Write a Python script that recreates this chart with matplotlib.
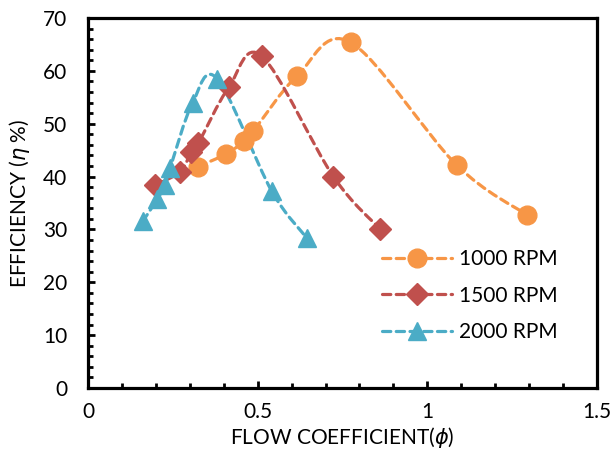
import matplotlib
matplotlib.use('Agg')
import matplotlib.pyplot as plt
from matplotlib.path import Path
from matplotlib.patches import PathPatch
from matplotlib.lines import Line2D
from matplotlib.ticker import MultipleLocator

plt.rcParams['font.family'] = ['Lato', 'DejaVu Sans']
plt.rcParams['mathtext.fontset'] = 'dejavusans'

# measured points, flow coefficient vs efficiency (%)
phi_1000 = [0.325, 0.408, 0.460, 0.487, 0.617, 0.774, 1.086, 1.295]
eta_1000 = [41.9, 44.3, 46.7, 48.6, 59.1, 65.4, 42.2, 32.7]

phi_1500 = [0.197, 0.271, 0.305, 0.325, 0.415, 0.512, 0.723, 0.862]
eta_1500 = [38.4, 40.9, 44.7, 46.3, 56.9, 62.8, 40.0, 30.0]

phi_2000 = [0.161, 0.204, 0.227, 0.242, 0.308, 0.381, 0.541, 0.646]
eta_2000 = [31.5, 35.7, 38.4, 41.6, 53.9, 58.5, 37.3, 28.3]

labels = ['1000 RPM', '1500 RPM', '2000 RPM']
colors = ['#F79646', '#C0504D', '#4BACC6']
markers = ['o', 'D', '^']
msizes = [13.5, 11, 13.5]


def smooth_path(x, y):
    # excel style smoothed line: bezier segments with catmull-rom controls
    pts = list(zip(x, y))
    verts = [pts[0]]
    codes = [Path.MOVETO]
    n = len(pts)
    for i in range(n - 1):
        p0 = pts[i - 1] if i > 0 else pts[i]
        p1 = pts[i]
        p2 = pts[i + 1]
        p3 = pts[i + 2] if i + 2 < n else pts[i + 1]
        c1 = (p1[0] + (p2[0] - p0[0]) / 6, p1[1] + (p2[1] - p0[1]) / 6)
        c2 = (p2[0] - (p3[0] - p1[0]) / 6, p2[1] - (p3[1] - p1[1]) / 6)
        verts += [c1, c2, p2]
        codes += [Path.CURVE4] * 3
    return Path(verts, codes)


fig = plt.figure(figsize=(6.14, 4.5), dpi=100)
ax = fig.add_axes([0.1433, 0.1378, 0.829, 0.8222])

lw = 2.3
dash = (2.6, 1.7)
handles = []
for xs, ys, c, m, ms, lab in zip([phi_1000, phi_1500, phi_2000],
                                 [eta_1000, eta_1500, eta_2000],
                                 colors, markers, msizes, labels):
    patch = PathPatch(smooth_path(xs, ys), facecolor='none', edgecolor=c,
                      lw=lw, linestyle=(0, dash), capstyle='round')
    ax.add_patch(patch)
    ax.plot(xs, ys, linestyle='none', marker=m, ms=ms, color=c,
            markeredgecolor=c)
    handles.append(Line2D([], [], color=c, lw=lw, dashes=dash,
                          dash_capstyle='round', marker=m, ms=ms,
                          markeredgecolor=c, label=lab))

ax.set_xlim(0, 1.5)
ax.set_ylim(0, 70)
ax.xaxis.set_minor_locator(MultipleLocator(0.1))
ax.yaxis.set_major_locator(MultipleLocator(10))
ax.yaxis.set_minor_locator(MultipleLocator(2))
ax.set_xticks([0, 0.5, 1, 1.5])
ax.set_xticklabels(['0', '0.5', '1', '1.5'])

for s in ax.spines.values():
    s.set_linewidth(2.3)
ax.tick_params(which='major', direction='in', length=5, width=2,
               labelsize=15, top=False, right=False)
ax.tick_params(axis='x', which='major', pad=10)
ax.tick_params(axis='y', which='major', pad=15)
ax.tick_params(which='minor', direction='in', length=3.5, width=2,
               top=False, right=False)

ax.set_xlabel(r'FLOW COEFFICIENT($\phi$)', fontsize=15, va='top')
ax.xaxis.set_label_coords(0.5, -0.1)
ax.set_ylabel(r'EFFICIENCY ($\eta$ %)', fontsize=15)
ax.yaxis.set_label_coords(-0.11, 0.5)

ax.legend(handles=handles, loc='upper left', bbox_to_anchor=(0.54, 0.425),
          frameon=False, fontsize=15, handlelength=3.4, labelspacing=0.78,
          handletextpad=0.3)

fig.savefig('out.png', dpi=100)
